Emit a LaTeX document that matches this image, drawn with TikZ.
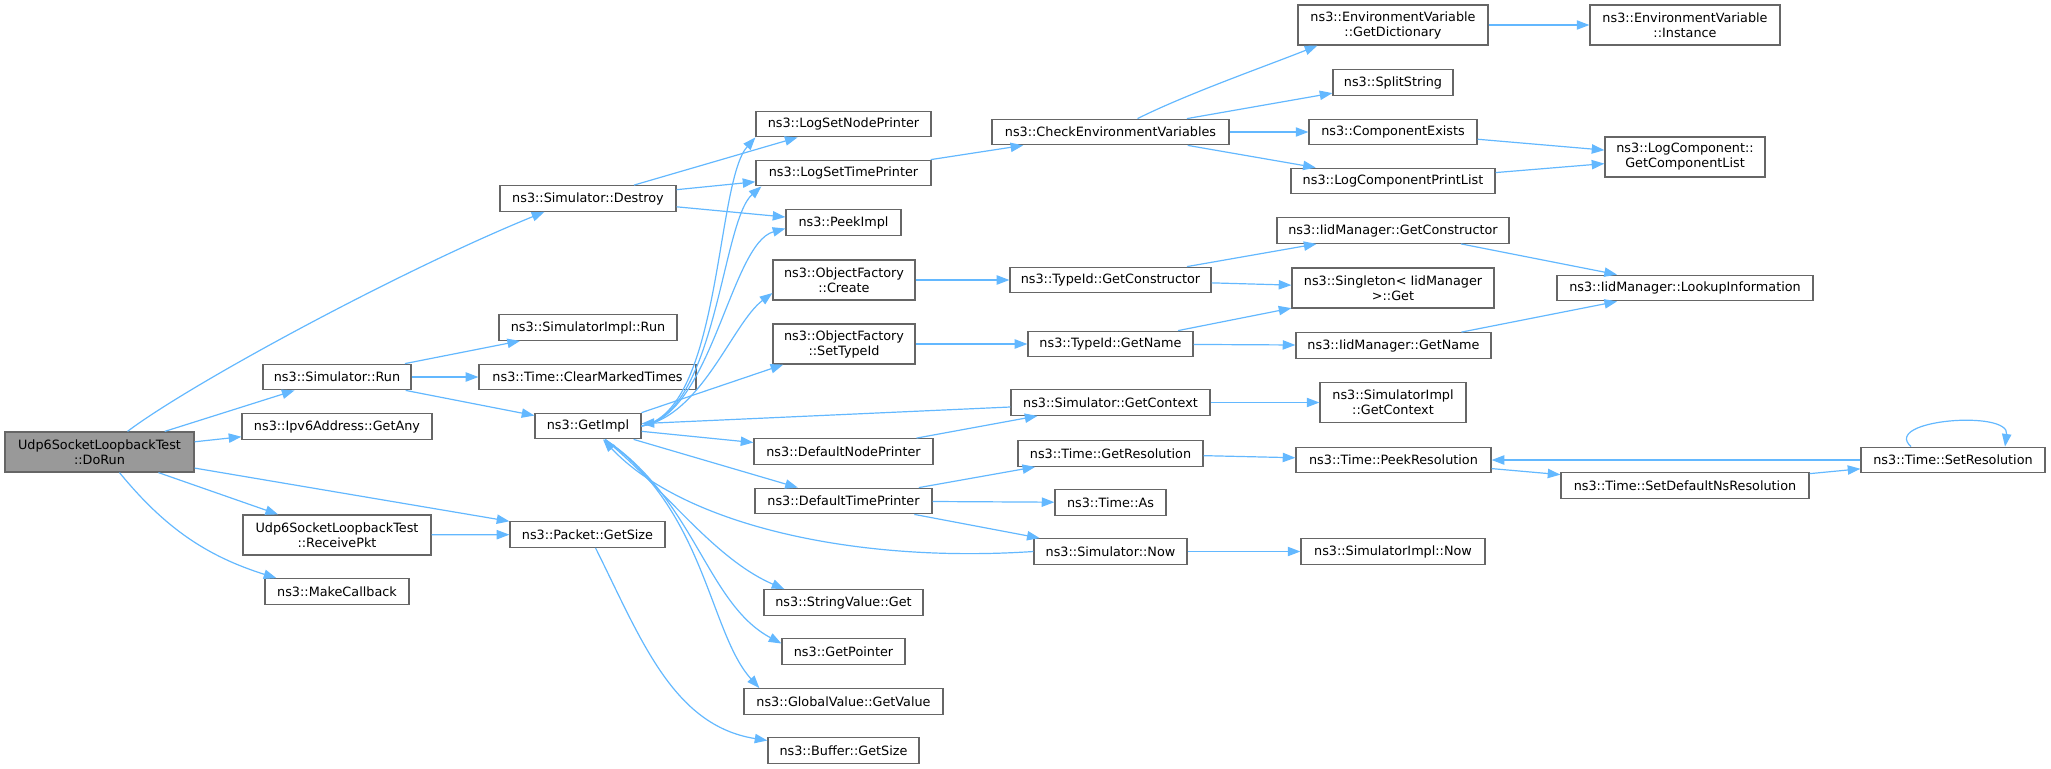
\documentclass[tikz,border=0pt]{standalone}
\usepackage{fontspec}
\setmainfont{DejaVu Sans}
\usetikzlibrary{arrows.meta, calc}
\definecolor{edgeblue}{HTML}{63B8FF}
\definecolor{boxline}{HTML}{666666}
\definecolor{boxgray}{HTML}{999999}
\tikzstyle{call} = [draw=edgeblue, line width=0.9pt, -{Triangle[length=9.5pt,width=7pt]}]

\begin{document}
\begin{tikzpicture}[x=0.75pt, y=-0.75pt,
            fn/.style={draw=boxline, fill=white, line width=0.9pt, inner sep=0pt,
                minimum height=19.2pt, align=center, font=\fontsize{9.6}{11.3}\selectfont},
            fn2/.style={fn, minimum height=30pt},
            wd/.style={minimum width=#1*0.75pt}
        ]
            \useasboundingbox (0,0) rectangle (2051,768);

            % column 1 and 2
            \node[fn2, fill=boxgray, wd=189] (dorun) at (99.5,452) {Udp6SocketLoopbackTest\\::DoRun};
            \node[fn, wd=148] (simrun) at (337,377) {ns3::Simulator::Run};
            \node[fn, wd=190] (getany) at (337,426.5) {ns3::Ipv6Address::GetAny};
            \node[fn2, wd=188] (recvpkt) at (337,535) {Udp6SocketLoopbackTest\\::ReceivePkt};
            \node[fn, wd=144] (makecb) at (337,591.5) {ns3::MakeCallback};

            % column 3
            \node[fn, wd=176] (destroy) at (588,198.5) {ns3::Simulator::Destroy};
            \node[fn, wd=178] (simimplrun) at (588,327.5) {ns3::SimulatorImpl::Run};
            \node[fn, wd=217] (clearmarked) at (587.5,377) {ns3::Time::ClearMarkedTimes};
            \node[fn, wd=106] (getimpl) at (588,426) {ns3::GetImpl};
            \node[fn, wd=155] (pktsize) at (587.5,534.5) {ns3::Packet::GetSize};

            % column 4
            \node[fn, wd=175] (lognode) at (843.5,124) {ns3::LogSetNodePrinter};
            \node[fn, wd=175] (logtime) at (843.5,173) {ns3::LogSetTimePrinter};
            \node[fn, wd=115] (peekimpl) at (843.5,222.5) {ns3::PeekImpl};
            \node[fn2, wd=142] (ofcreate) at (844,280) {ns3::ObjectFactory\\::Create};
            \node[fn2, wd=142] (ofsettypeid) at (844,344) {ns3::ObjectFactory\\::SetTypeId};
            \node[fn, wd=179] (defnode) at (843.5,451.5) {ns3::DefaultNodePrinter};
            \node[fn, wd=177] (deftime) at (843.5,501) {ns3::DefaultTimePrinter};
            \node[fn, wd=159] (strval) at (843.5,602.5) {ns3::StringValue::Get};
            \node[fn, wd=123] (getptr) at (843.5,651.5) {ns3::GetPointer};
            \node[fn, wd=199] (globval) at (843.5,701.5) {ns3::GlobalValue::GetValue};
            \node[fn, wd=151] (bufsize) at (843.5,750.5) {ns3::Buffer::GetSize};

            % column 5
            \node[fn, wd=237] (checkenv) at (1110.5,132) {ns3::CheckEnvironmentVariables};
            \node[fn, wd=201] (tidgetctor) at (1110.5,280) {ns3::TypeId::GetConstructor};
            \node[fn, wd=165] (tidgetname) at (1110.5,344) {ns3::TypeId::GetName};
            \node[fn, wd=199] (simgetctx) at (1110.5,402.5) {ns3::Simulator::GetContext};
            \node[fn, wd=185] (timegetres) at (1110.5,453.5) {ns3::Time::GetResolution};
            \node[fn, wd=111] (timeas) at (1110.5,502.5) {ns3::Time::As};
            \node[fn, wd=153] (simnow) at (1110.5,551.5) {ns3::Simulator::Now};

            % column 6
            \node[fn2, wd=190] (getdict) at (1393,25) {ns3::EnvironmentVariable\\::GetDictionary};
            \node[fn, wd=120] (splitstr) at (1393,82.5) {ns3::SplitString};
            \node[fn, wd=168] (compexists) at (1393,132) {ns3::ComponentExists};
            \node[fn, wd=204] (logcomplist) at (1393,181) {ns3::LogComponentPrintList};
            \node[fn, wd=232] (iidgetctor) at (1393,230.5) {ns3::IidManager::GetConstructor};
            \node[fn2, wd=202] (singleton) at (1393,288) {ns3::Singleton< IidManager\\>::Get};
            \node[fn, wd=195] (iidgetname) at (1393.5,345.5) {ns3::IidManager::GetName};
            \node[fn2, wd=146] (simimplgetctx) at (1393,402.5) {ns3::SimulatorImpl\\::GetContext};
            \node[fn, wd=195] (timepeekres) at (1393.5,460) {ns3::Time::PeekResolution};
            \node[fn, wd=184] (simimplnow) at (1393,551.5) {ns3::SimulatorImpl::Now};

            % column 7 and 8
            \node[fn2, wd=190] (envinst) at (1685,25) {ns3::EnvironmentVariable\\::Instance};
            \node[fn2, wd=160] (getcomplist) at (1685,157) {ns3::LogComponent::\\GetComponentList};
            \node[fn, wd=256] (lookup) at (1685,288) {ns3::IidManager::LookupInformation};
            \node[fn, wd=248] (setdefns) at (1685,485.5) {ns3::Time::SetDefaultNsResolution};
            \node[fn, wd=184] (setres) at (1953,460) {ns3::Time::SetResolution};

            % straight calls
            \foreach \a/\b in {dorun/simrun, dorun/getany, dorun/recvpkt, dorun/pktsize,
                destroy/lognode, destroy/logtime, destroy/peekimpl,
                simrun/simimplrun, simrun/clearmarked, simrun/getimpl, recvpkt/pktsize,
                getimpl/defnode, getimpl/deftime, simgetctx/getimpl,
                defnode/simgetctx, deftime/timegetres, deftime/timeas, deftime/simnow,
                simgetctx/simimplgetctx, simnow/simimplnow,
                timegetres/timepeekres, timepeekres/setdefns, setdefns/setres, setres/timepeekres,
                logtime/checkenv, checkenv/splitstr, checkenv/compexists, checkenv/logcomplist,
                getdict/envinst, compexists/getcomplist, logcomplist/getcomplist,
                ofcreate/tidgetctor, ofsettypeid/tidgetname,
                tidgetctor/iidgetctor, tidgetctor/singleton, tidgetname/singleton, tidgetname/iidgetname,
                iidgetctor/lookup, iidgetname/lookup}
                \draw[call] (\a) -- (\b);
            \draw[call] (getimpl.north east) -- (ofsettypeid);

            % curved calls
            \draw[call] ($(dorun.north)+(28,0)$) .. controls +(62,-47) and +(-145,59) .. ($(destroy.south west)+(45,0)$);
            \draw[call] ($(dorun.south)+(20,0)$) .. controls +(45,55) and +(-70,-22) .. ($(makecb.north west)+(12,0)$);
            \draw[call] ($(pktsize.south)+(8,0)$) .. controls +(45,90) and +(-95,-15) .. ($(bufsize.west)+(0,-10)$);
            \draw[call] (getimpl.east) .. controls +(80,-15) and +(-40,45) .. (lognode.south west);
            \draw[call] (getimpl.east) .. controls +(75,-12) and +(-40,35) .. ($(logtime.south west)+(6,0)$);
            \draw[call] (getimpl.east) .. controls +(70,-10) and +(-55,15) .. ($(peekimpl.west)+(0,6)$);
            \draw[call] (getimpl.east) .. controls +(60,-10) and +(-40,30) .. ($(ofcreate.west)+(0,13)$);
            \draw[call] ($(getimpl.south)+(17,0)$) .. controls +(60,50) and +(-70,-30) .. ($(strval.north west)+(21,0)$);
            \draw[call] ($(getimpl.south)+(17,0)$) .. controls +(90,60) and +(-75,-40) .. ($(getptr.west)+(0,-8)$);
            \draw[call] ($(getimpl.south)+(17,0)$) .. controls +(100,70) and +(-50,-55) .. ($(globval.north west)+(16,0)$);
            \draw[call] (simnow.west) .. controls +(-180,12) and +(80,85) .. ($(getimpl.south)+(15,0)$);
            \draw[call] ($(checkenv.north)+(27,0)$) .. controls +(50,-25) and +(-50,20) .. ($(getdict.south west)+(20,0)$);
            \draw[call] ($(setres.north)+(-42,0)$) .. controls +(-30,-27) and +(5,-37) .. ($(setres.north)+(52,0)$);
        \end{tikzpicture}
\end{document}
